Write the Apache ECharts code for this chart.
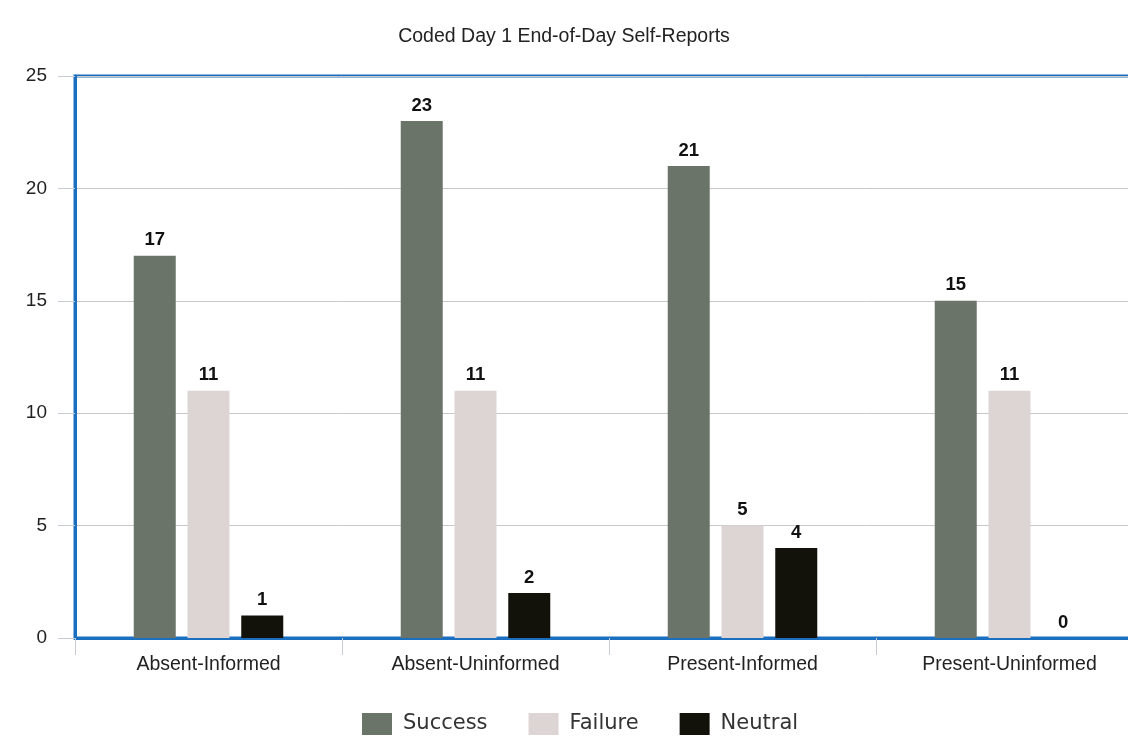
<!DOCTYPE html>
<html>
<head>
<meta charset="utf-8">
<script src="https://cdn.jsdelivr.net/npm/echarts@6/dist/echarts.min.js"></script>
<style>
  html, body { margin: 0; padding: 0; background: #fff; }
  #chart { width: 1128px; height: 738px; }
</style>
</head>
<body>
<div id="chart"></div>
<script>
// groups along the x axis
const categories = ['Absent-Informed', 'Absent-Uninformed', 'Present-Informed', 'Present-Uninformed'];
// counts per outcome
const success = [17, 23, 21, 15];
const failure = [11, 11, 5, 11];
const neutral = [1, 2, 4, 0];

const chart = echarts.init(document.getElementById('chart'));

const labelStyle = {
  show: true,
  position: 'top',
  distance: 6,
  color: '#111',
  fontWeight: 'bold',
  fontSize: 18.5,
  fontFamily: 'Liberation Sans, Arial, sans-serif'
};

function makeSeries(name, data, color) {
  return {
    name: name,
    type: 'bar',
    data: data,
    barWidth: 42,
    barGap: '28%',
    itemStyle: { color: color },
    label: labelStyle
  };
}

const option = {
  animation: false,
  backgroundColor: '#fff',
  title: {
    text: 'Coded Day 1 End-of-Day Self-Reports',
    left: 'center',
    top: 22,
    textStyle: {
      fontSize: 19.5,
      fontWeight: 'normal',
      color: '#222',
      fontFamily: 'Liberation Sans, Arial, sans-serif'
    }
  },
  legend: {
    bottom: -2,
    left: 357,
    itemWidth: 30,
    itemHeight: 22,
    itemGap: 41,
    icon: 'rect',
    textStyle: {
      fontSize: 21,
      color: '#333',
      padding: [0, 0, 0, 6],
      fontFamily: 'DejaVu Sans, sans-serif'
    },
    data: ['Success', 'Failure', 'Neutral']
  },
  grid: {
    left: 75,
    width: 1068,
    top: 76,
    height: 562,
    outerBoundsMode: 'none',
    show: true,
    borderColor: '#1a6fc0',
    borderWidth: 3,
    containLabel: false
  },
  xAxis: {
    type: 'category',
    data: categories,
    axisLine: { show: true, lineStyle: { color: '#1a6fc0', width: 3 } },
    axisTick: { show: true, length: 17, lineStyle: { color: '#c8ccd4', width: 1 } },
    axisLabel: {
      fontSize: 19.5,
      color: '#222',
      margin: 17,
      fontFamily: 'Liberation Sans, Arial, sans-serif'
    }
  },
  yAxis: {
    type: 'value',
    min: 0,
    max: 25,
    interval: 5,
    axisLine: { show: true, lineStyle: { color: '#1a6fc0', width: 3 } },
    axisTick: { show: true, length: 17, lineStyle: { color: '#c8ccd4', width: 1 } },
    axisLabel: {
      fontSize: 19,
      color: '#222',
      margin: 28,
      fontFamily: 'Liberation Sans, Arial, sans-serif'
    },
    splitLine: { lineStyle: { color: '#c8c8c8', width: 1 } }
  },
  series: [
    makeSeries('Success', success, '#6b7469'),
    makeSeries('Failure', failure, '#ddd5d3'),
    makeSeries('Neutral', neutral, '#12120a')
  ]
};

chart.setOption(option);
</script>
</body>
</html>
